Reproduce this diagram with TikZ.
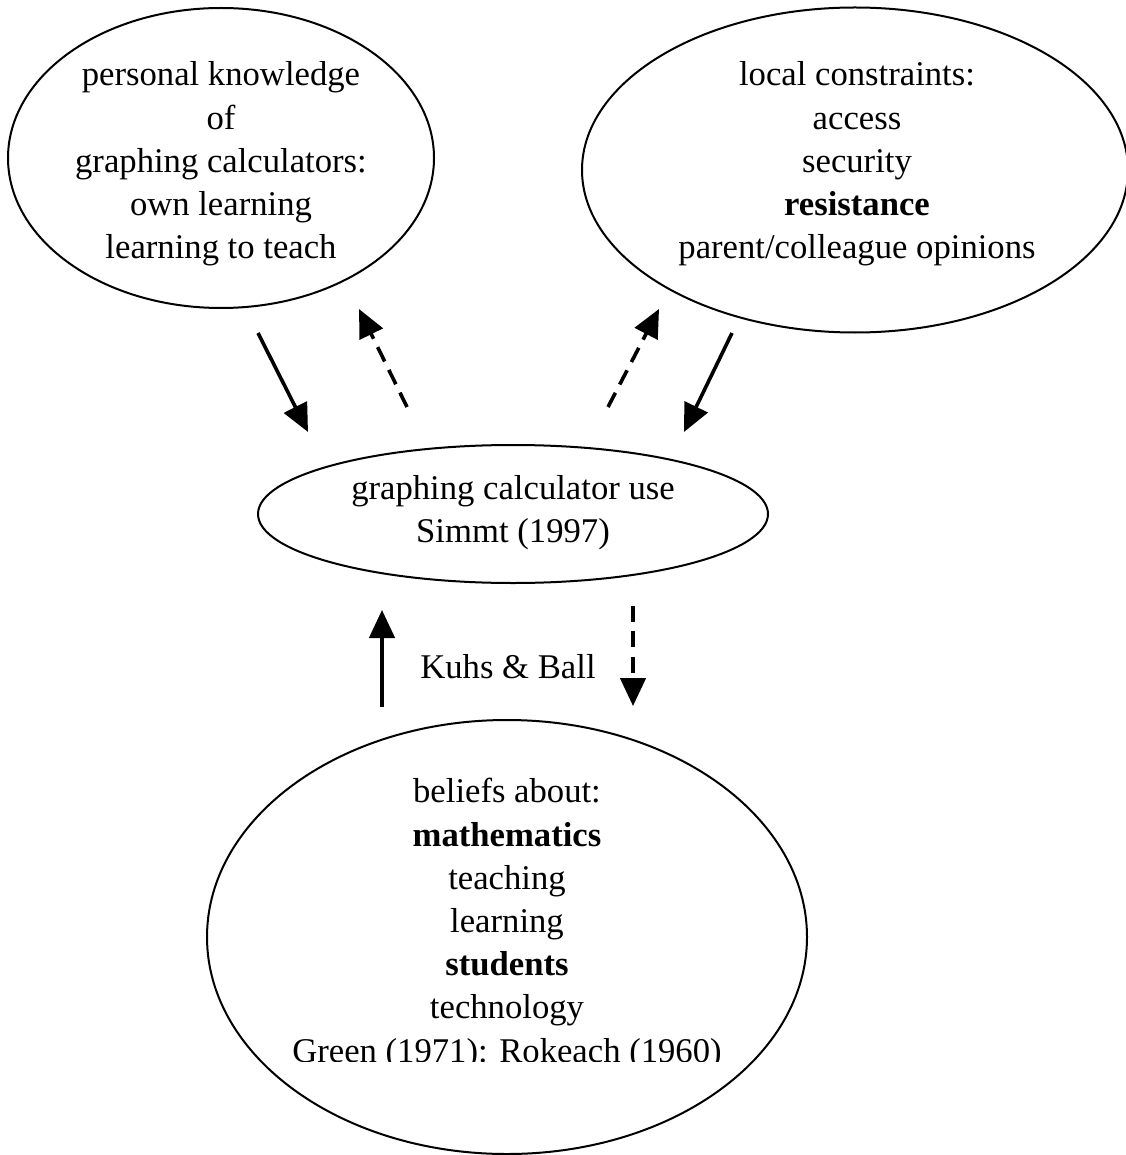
\documentclass[tikz,border=0pt]{standalone}
\usepackage{fontspec}
\setmainfont{Liberation Serif}
\usetikzlibrary{shapes.geometric,arrows.meta}
\begin{document}
\begin{tikzpicture}[x=0.75pt,y=-0.75pt,
  oval/.style={ellipse,draw,line width=1.5pt,inner sep=0pt},
  txt/.style={align=center,font=\fontsize{26}{32.4}\selectfont,inner sep=0pt},
  arr/.style={line width=2.7pt,-{Triangle[length=21pt,width=19pt]}},
  dsh/.style={arr,dash pattern=on 12pt off 7pt}]
\useasboundingbox (0,0) rectangle (1126,1155);
\node[oval,minimum width=426pt*0.75,minimum height=300pt*0.75] (pk) at (221,158) {};
\node[oval,minimum width=546pt*0.75,minimum height=325pt*0.75] (lc) at (855,170) {};
\node[oval,minimum width=510pt*0.75,minimum height=138pt*0.75] (gc) at (513,514) {};
\node[oval,minimum width=600pt*0.75,minimum height=434pt*0.75] (bl) at (507,937) {};
\node[txt] (pkt) at (221,164) {personal knowledge\\of\\graphing calculators:\\own learning\\learning to teach};
\node[txt] (lct) at (857,164) {local constraints:\\access\\security\\\textbf{resistance}\\parent/colleague opinions};
\node[txt] (gct) at (513,513) {graphing calculator use\\Simmt (1997)};
\begin{scope}
\clip (0,0) rectangle (1126,1061);
\node[txt] (blt) at (507,924) {beliefs about:\\\textbf{mathematics}\\teaching\\learning\\\textbf{students}\\technology\\Green (1971): Rokeach (1960)};
\end{scope}
\node[txt] (kb) at (508,667) {Kuhs \& Ball};
\coordinate (a1s) at (258,333); \coordinate (a1e) at (308,432);
\coordinate (a2s) at (407,407); \coordinate (a2e) at (359,309);
\coordinate (a3s) at (608,407); \coordinate (a3e) at (659,309);
\coordinate (a4s) at (732,333); \coordinate (a4e) at (684,432);
\coordinate (a5s) at (382,707); \coordinate (a5e) at (382,610);
\coordinate (a6s) at (633,606); \coordinate (a6e) at (633,706);
\draw[arr] (a1s) -- (a1e);
\draw[dsh] (a2s) -- (a2e);
\draw[dsh] (a3s) -- (a3e);
\draw[arr] (a4s) -- (a4e);
\draw[arr] (a5s) -- (a5e);
\draw[dsh] (a6s) -- (a6e);
\end{tikzpicture}
\end{document}
